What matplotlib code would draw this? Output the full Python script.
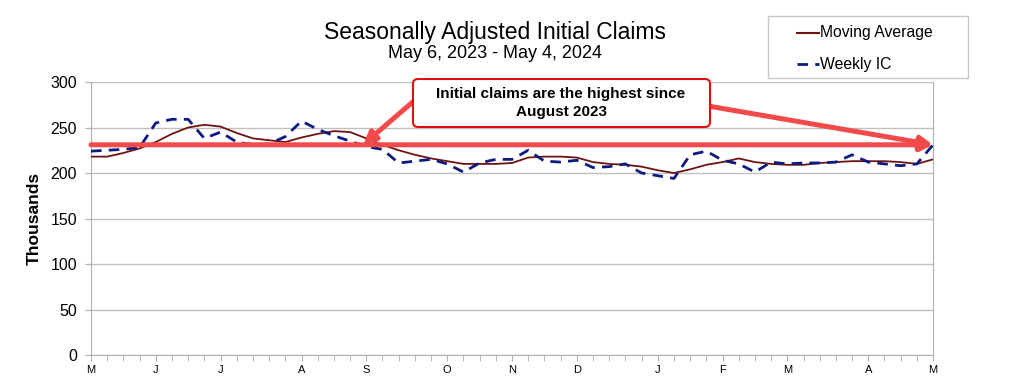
import numpy as np
import matplotlib
matplotlib.use("Agg")
import matplotlib.pyplot as plt
from matplotlib.patches import FancyBboxPatch, Rectangle
from matplotlib.lines import Line2D
from matplotlib.transforms import IdentityTransform

plt.rcParams['font.family'] = ['Liberation Sans', 'DejaVu Sans']

# weekly data, May 6 2023 .. May 4 2024 (thousands)
weekly_ic = [224, 225, 226, 228, 255, 259, 259, 238, 245, 234,
             231, 232, 240, 257, 248, 241, 235, 229, 226, 211,
             213, 215, 210, 201, 211, 215, 215, 225, 213, 212,
             214, 206, 207, 210, 200, 197, 194, 220, 224, 214,
             210, 201, 212, 210, 211, 211, 212, 220, 212, 210,
             208, 210, 231]
moving_avg = [218, 218, 222, 227, 234, 243, 250, 253, 251, 244,
              238, 236, 234, 239, 243, 246, 245, 238, 231, 225,
              220, 216, 213, 210, 210, 210, 211, 217, 218, 218,
              217, 212, 210, 209, 207, 203, 200, 204, 209, 212,
              216, 212, 210, 209, 209, 211, 212, 213, 213, 213,
              212, 210, 215]
month_weeks = [0, 4, 8, 13, 17, 22, 26, 30, 35, 39, 43, 48, 52]
month_labels = ['M', 'J', 'J', 'A', 'S', 'O', 'N', 'D', 'J', 'F', 'M', 'A', 'M']
highest_level = 231
arrow_left_week = 16.8

weeks = np.arange(len(weekly_ic))
red = '#f24a4a'
ma_color = '#6e1410'
ic_color = '#0c1a80'
H = 383  # figure height in px, for pixel placement from the top

fig = plt.figure(figsize=(10.12, 3.83), dpi=100)
ax = fig.add_axes([0.0899, 0.0731, 0.8321, 0.7128])

ax.plot(weeks, moving_avg, color=ma_color, lw=1.3, zorder=3)
ax.plot(weeks, weekly_ic, color=ic_color, lw=2.0, dashes=(3.8, 2.6), zorder=3)

ax.set_xlim(0, 52)
ax.set_ylim(0, 300)
ax.set_yticks(range(0, 301, 50))
ax.grid(axis='y', color='#c0c0c0', lw=1)
ax.set_axisbelow(True)
for s in ax.spines.values():
    s.set_color('#b0b0b0')
ax.spines['top'].set_visible(False)

ax.set_xticks(month_weeks)
ax.set_xticklabels(month_labels, fontsize=8)
ax.set_xticks(weeks, minor=True)
ax.tick_params(axis='x', which='both', direction='out', length=4, color='#b0b0b0', pad=3)
ax.tick_params(axis='y', length=4, color='#b0b0b0', labelsize=11.5, pad=6)
ax.set_ylabel('Thousands', fontsize=12.5, fontweight='bold', labelpad=6)

# title
fig.text(0.489, 1 - 39 / H, 'Seasonally Adjusted Initial Claims', ha='center',
         va='baseline', fontsize=16.5)
fig.text(0.489, 1 - 58 / H, 'May 6, 2023 - May 4, 2024', ha='center',
         va='baseline', fontsize=13)

# legend, drawn by hand in figure pixels
pix = IdentityTransform()
fig.patches.append(Rectangle((768, H - 78), 200, 62, transform=pix, fc='white',
                             ec='#c8c8c8', lw=1))
fig.lines.append(Line2D([797, 819], [H - 33, H - 33], transform=pix,
                        color=ma_color, lw=1.5))
fig.lines.append(Line2D([797, 819], [H - 64, H - 64], transform=pix,
                        color=ic_color, lw=2.0, dashes=(3.8, 2.6)))
fig.text(820 / 1012, 1 - 33 / H, 'Moving Average', va='center', fontsize=11.3)
fig.text(820 / 1012, 1 - 64 / H, 'Weekly IC', va='center', fontsize=11.3)

# red line + arrows
arrow = dict(arrowstyle='-|>', color=red, lw=3.6, mutation_scale=18,
             shrinkA=0, shrinkB=0)
ax.annotate('', xy=(52, highest_level), xytext=(0, highest_level),
            arrowprops=arrow, annotation_clip=False, zorder=4)
ax.annotate('', xy=(arrow_left_week, highest_level), xytext=(415, H - 100),
            textcoords='figure pixels', arrowprops=arrow,
            annotation_clip=False, zorder=4)
ax.annotate('', xy=(52, highest_level), xytext=(708, H - 106),
            textcoords='figure pixels', arrowprops=arrow,
            annotation_clip=False, zorder=4)

fig.patches.append(FancyBboxPatch((413, H - 127), 297, 48, transform=pix,
                                  boxstyle='round,pad=0,rounding_size=5',
                                  fc='white', ec='#e01010', lw=1.5, zorder=5))
fig.text(561 / 1012, 1 - 103 / H, 'Initial claims are the highest since\nAugust 2023',
         ha='center', va='center', fontsize=11, fontweight='bold', linespacing=1.35,
         zorder=6)

fig.savefig('out.png', dpi=100)
